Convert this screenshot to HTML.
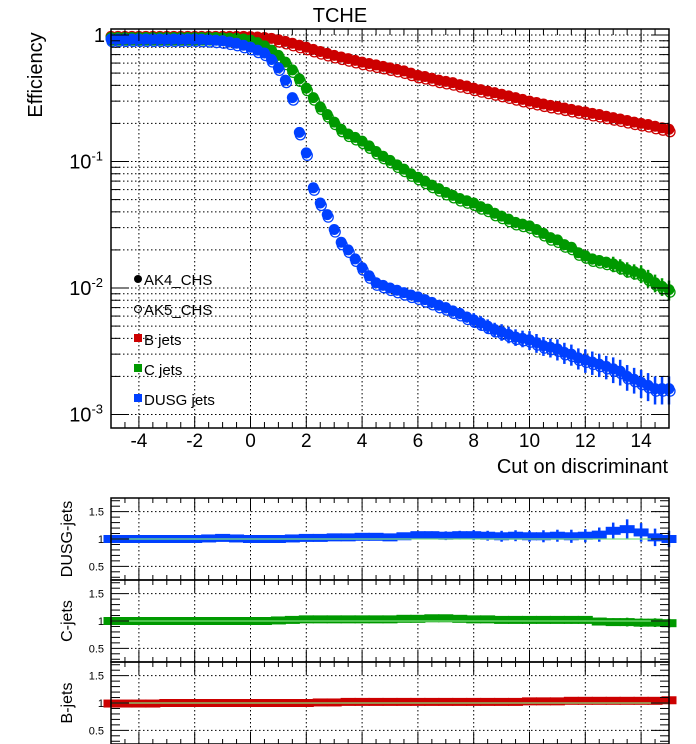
<!DOCTYPE html>
<html><head><meta charset="utf-8"><style>
body{margin:0;background:#fff;}
svg{display:block;font-family:"Liberation Sans",Arial,sans-serif;}
</style></head><body>
<svg id="c" width="696" height="744" viewBox="0 0 696 744">
<rect width="696" height="744" fill="#fff"/>
<text x="340" y="22" font-size="20" text-anchor="middle">TCHE</text>
<text transform="translate(42,75) rotate(-90)" font-size="20" text-anchor="middle">Efficiency</text>
<text x="668" y="473" font-size="20" text-anchor="end">Cut on discriminant</text>
<g id="grid"></g><g id="marks"></g><g id="axes"></g>
<g id="legend">
 <circle cx="138" cy="279" r="4" fill="#000"/>
 <text x="144" y="285" font-size="15">AK4_CHS</text>
 <circle cx="138" cy="309" r="3.5" fill="none" stroke="#000" stroke-width="1"/>
 <text x="144" y="315" font-size="15">AK5_CHS</text>
 <rect x="134" y="334" width="8" height="8" fill="#cc0000"/>
 <text x="144" y="345" font-size="15">B jets</text>
 <rect x="134" y="364" width="8" height="8" fill="#009900"/>
 <text x="144" y="375" font-size="15">C jets</text>
 <rect x="134" y="394" width="8" height="8" fill="#0040ff"/>
 <text x="144" y="405" font-size="15">DUSG jets</text>
</g>
</svg>
<script>
// ---- data ----
const xStart=-5, xStep=0.25;
const effB=[0.975,0.975,0.975,0.975,0.975,0.975,0.975,0.975,0.975,0.975,0.975,0.975,0.975,0.975,0.975,0.975,0.975,0.975,0.975,0.975,
0.97,0.965,0.955,0.94,0.92,0.89,0.86,0.83,0.80,0.77,0.74,0.715,0.69,0.67,0.65,0.63,0.61,0.595,0.58,0.565,0.55,0.535,0.52,0.50,0.48,0.47,0.455,0.44,0.43,0.42,0.405,0.395,0.38,0.37,0.36,0.35,0.34,0.33,0.32,0.31,0.30,0.293,0.285,0.278,0.272,0.265,0.258,0.252,0.247,0.24,0.235,0.228,0.222,0.217,0.211,0.205,0.2,0.196,0.19,0.185,0.18];
const effC=[0.955,0.955,0.955,0.955,0.955,0.955,0.955,0.955,0.955,0.955,0.955,0.955,0.955,0.955,0.955,0.955,
0.95,0.945,0.94,0.93,0.91,0.87,0.82,0.76,0.69,0.61,0.53,0.45,0.38,0.32,0.27,0.235,0.205,0.18,0.165,0.155,0.145,0.133,0.12,0.11,0.102,0.094,0.087,0.08,0.075,0.07,0.065,0.061,0.057,0.054,0.051,0.049,0.047,0.044,0.042,0.039,0.037,0.035,0.033,0.032,0.031,0.029,0.027,0.025,0.024,0.022,0.021,0.019,0.018,0.017,0.0165,0.016,0.0155,0.0148,0.014,0.0135,0.013,0.012,0.011,0.0103,0.0097];
const effL=[0.93,0.93,0.93,0.93,0.93,0.93,0.93,0.93,0.93,0.93,0.93,0.93,0.93,
0.925,0.92,0.91,0.9,0.88,0.86,0.83,0.8,0.76,0.72,0.64,0.55,0.44,0.32,0.17,0.117,0.062,0.047,0.038,0.029,0.023,0.02,0.017,0.0145,0.0125,0.011,0.0105,0.01,0.0096,0.0092,0.0088,0.0085,0.0081,0.0077,0.0073,0.007,0.0066,0.0063,0.0059,0.0056,0.0053,0.005,0.0047,0.0045,0.0043,0.0041,0.004,0.0039,0.0037,0.0035,0.0034,0.0033,0.0031,0.003,0.0028,0.0027,0.0026,0.0025,0.0024,0.0023,0.0022,0.002,0.0019,0.0018,0.0017,0.0016,0.0016,0.0016];
// relative errors on efficiency (1-unit steps, -5..15)
const relErrB=[0,0,0,0,0,0,0,0,0,0,0.005,0.005,0.01,0.01,0.01,0.015,0.015,0.02,0.02,0.02,0.025];
const relErrC=[0,0,0,0,0,0,0,0.01,0.01,0.02,0.02,0.03,0.03,0.04,0.05,0.06,0.08,0.1,0.14,0.16,0.18];
const relErrL=[0,0,0,0,0,0,0,0.01,0.02,0.05,0.07,0.09,0.1,0.13,0.15,0.17,0.19,0.21,0.23,0.25,0.25];
// ratio panels (0.5 steps, -5..15)
const rStart=-5, rStep=0.5;
const ratioL=[1,1,1,1,1,1,1,1.01,1.02,1.01,1,1,1,1.01,1.02,1.02,1.03,1.03,1.04,1.04,1.03,1.05,1.07,1.07,1.06,1.07,1.07,1.06,1.05,1.06,1.05,1.05,1.06,1.05,1.06,1.08,1.15,1.18,1.12,1.03,1.0];
const errL=[0.01,0.01,0.01,0.01,0.01,0.01,0.01,0.01,0.01,0.01,0.01,0.01,0.01,0.01,0.02,0.02,0.03,0.04,0.04,0.05,0.06,0.06,0.07,0.07,0.08,0.08,0.09,0.09,0.1,0.1,0.1,0.11,0.11,0.12,0.12,0.13,0.15,0.18,0.17,0.16,0.15];
const ratioC=[1,1,1,1,1,1,1,1,1,1,1,1,1.01,1.02,1.03,1.03,1.03,1.03,1.03,1.03,1.03,1.04,1.04,1.05,1.05,1.04,1.03,1.03,1.02,1.02,1.02,1.02,1.02,1.02,1.02,0.99,0.98,0.98,0.97,0.97,0.96];
const errC=[0.01,0.01,0.01,0.01,0.01,0.01,0.01,0.01,0.01,0.01,0.01,0.01,0.01,0.01,0.01,0.02,0.02,0.02,0.03,0.03,0.03,0.04,0.04,0.04,0.05,0.05,0.05,0.05,0.05,0.06,0.06,0.06,0.06,0.07,0.07,0.07,0.07,0.08,0.08,0.08,0.08];
const ratioB=[0.99,0.99,0.99,0.99,1,1,1,1,1,1,1,1,1,1,1,1.01,1.01,1.02,1.02,1.02,1.02,1.02,1.02,1.02,1.02,1.02,1.02,1.02,1.02,1.02,1.03,1.03,1.03,1.04,1.04,1.04,1.04,1.04,1.04,1.04,1.05];
const errB=[0.01,0.01,0.01,0.01,0.01,0.01,0.01,0.01,0.01,0.01,0.01,0.01,0.01,0.01,0.01,0.01,0.01,0.01,0.01,0.01,0.01,0.01,0.01,0.01,0.01,0.01,0.01,0.01,0.01,0.01,0.01,0.01,0.015,0.015,0.015,0.015,0.015,0.02,0.02,0.02,0.02];
const xTicks=[-4,-2,0,2,4,6,8,10,12,14];
const rTicks=[0.5,1,1.5];
// ---- layout ----
const NS="http://www.w3.org/2000/svg";
const L=111,R=669,T=29,B=428;
const X=v=>L+(v+5)/20*(R-L);
const Y=v=>35-Math.log10(v)*126.5;
const panels=[{t:498,b:580,name:'dusg',title:'DUSG-jets',r:ratioL,e:errL,col:'#0040ff'},
 {t:580,b:662,name:'c',title:'C-jets',r:ratioC,e:errC,col:'#009900'},
 {t:662,b:744,name:'b',title:'B-jets',r:ratioB,e:errB,col:'#cc0000'}];
function el(tag,attrs,parent){const e=document.createElementNS(NS,tag);for(const k in attrs)e.setAttribute(k,attrs[k]);parent.appendChild(e);return e;}
const grid=document.getElementById('grid'),marks=document.getElementById('marks'),axes=document.getElementById('axes');
const dot={stroke:'#000','stroke-width':1,'stroke-dasharray':'1.5,2.5'};
// main grid
xTicks.forEach(t=>{const g=el('line',Object.assign({x1:X(t),x2:X(t),y1:T,y2:B},dot),grid);

});
for(let d=-3;d<=0;d++)for(let m=1;m<=9;m++){const v=m*Math.pow(10,d);const y=Y(v);if(y<T||y>B)continue;
const g=el('line',Object.assign({x1:L,x2:R,y1:y,y2:y},dot),grid);


const tl=m==1?18:9;
el('line',{x1:L,x2:L+tl,y1:y,y2:y,stroke:'#000','stroke-width':1},axes);
el('line',{x1:R,x2:R-tl,y1:y,y2:y,stroke:'#000','stroke-width':1},axes);
if(m==1){const tx=el('text',{x:d==0?105:103,y:y+7,'font-size':20,'text-anchor':'end'},axes);


if(d==0)tx.textContent='1';else{tx.textContent='10';const s=el('tspan',{dy:-8,'font-size':13},tx);s.textContent=String(d);}}}
// main x ticks
for(let v=-5;v<=15;v+=0.5){const maj=v%2===0&&v>-5&&v<15;const tl=maj?12:6;
el('line',{x1:X(v),x2:X(v),y1:B,y2:B-tl,stroke:'#000'},axes);el('line',{x1:X(v),x2:X(v),y1:T,y2:T+tl,stroke:'#000'},axes);}
xTicks.forEach(t=>{const tx=el('text',{x:X(t),y:447,'font-size':19,'text-anchor':'middle'},axes);tx.textContent=String(t);

});
const fr=el('rect',{x:L,y:T,width:R-L,height:B-T,fill:'none',stroke:'#000','stroke-width':1.5},axes);


// series
function drawSeries(arr,errs,col,name){const g=el('g',{},marks);


arr.forEach((v,i)=>{const x=X(xStart+i*xStep),y=Y(v);const re=errs[Math.floor(i*xStep)];
if(re>0){const ln=el('line',{x1:x,x2:x,y1:Y(v*(1+re)),y2:Y(Math.max(v*(1-re),1e-4)),stroke:col,'stroke-width':2.5},g);

}
const o=el('circle',{cx:x+1,cy:y+2.5,r:5,fill:'none',stroke:col,'stroke-width':1.3},g);


const c=el('circle',{cx:x,cy:y,r:5.5,fill:col},g);

});}
drawSeries(effB,relErrB,'#cc0000','b-jets');
drawSeries(effC,relErrC,'#009900','c-jets');
drawSeries(effL,relErrL,'#0040ff','dusg-jets');
// ratio panels
panels.forEach(p=>{const ry=v=>p.b-(v-0.25)/1.5*(p.b-p.t);
const g=el('g',{},marks);


xTicks.forEach(t=>el('line',Object.assign({x1:X(t),x2:X(t),y1:p.t,y2:p.b},dot),g));
[0.5,1.5].forEach(t=>el('line',Object.assign({x1:L+20,x2:R,y1:ry(t),y2:ry(t)},dot),g));
p.r.forEach((v,i)=>{const x=X(rStart+i*rStep);
const eb=el('line',{x1:x,x2:x,y1:ry(v+p.e[i]),y2:ry(v-p.e[i]),stroke:p.col,'stroke-width':2.5},g);


const r1=el('rect',{x:x-7.5,y:ry(v)-4,width:15,height:8,fill:p.col},g);

});
el('line',{x1:L,x2:R,y1:ry(1),y2:ry(1),stroke:'#7ee07e','stroke-width':1.2},g);
for(let v=0.3;v<=1.71;v+=0.1){const maj=Math.abs(v*2-Math.round(v*2))<0.01;const tl=maj?18:9;const y=ry(v);
el('line',{x1:L,x2:L+tl,y1:y,y2:y,stroke:'#000'},g);el('line',{x1:R,x2:R-tl,y1:y,y2:y,stroke:'#000'},g);}
for(let v=-5;v<=15;v+=0.5){const maj=v%2===0;const tl=maj?12:5;
el('line',{x1:X(v),x2:X(v),y1:p.b,y2:p.b-tl,stroke:'#000'},g);el('line',{x1:X(v),x2:X(v),y1:p.t,y2:p.t+tl,stroke:'#000'},g);}
rTicks.forEach(t=>{const tx=el('text',{x:104,y:ry(t)+4,'font-size':11,'text-anchor':'end'},g);tx.textContent=String(t);

});
el('rect',{x:L,y:p.t,width:R-L,height:p.b-p.t,fill:'none',stroke:'#000','stroke-width':1.5},g);
const tt=el('text',{transform:`translate(72,${(p.t+p.b)/2}) rotate(-90)`,'font-size':16,'text-anchor':'middle'},g);tt.textContent=p.title;

});
</script>
</body></html>
